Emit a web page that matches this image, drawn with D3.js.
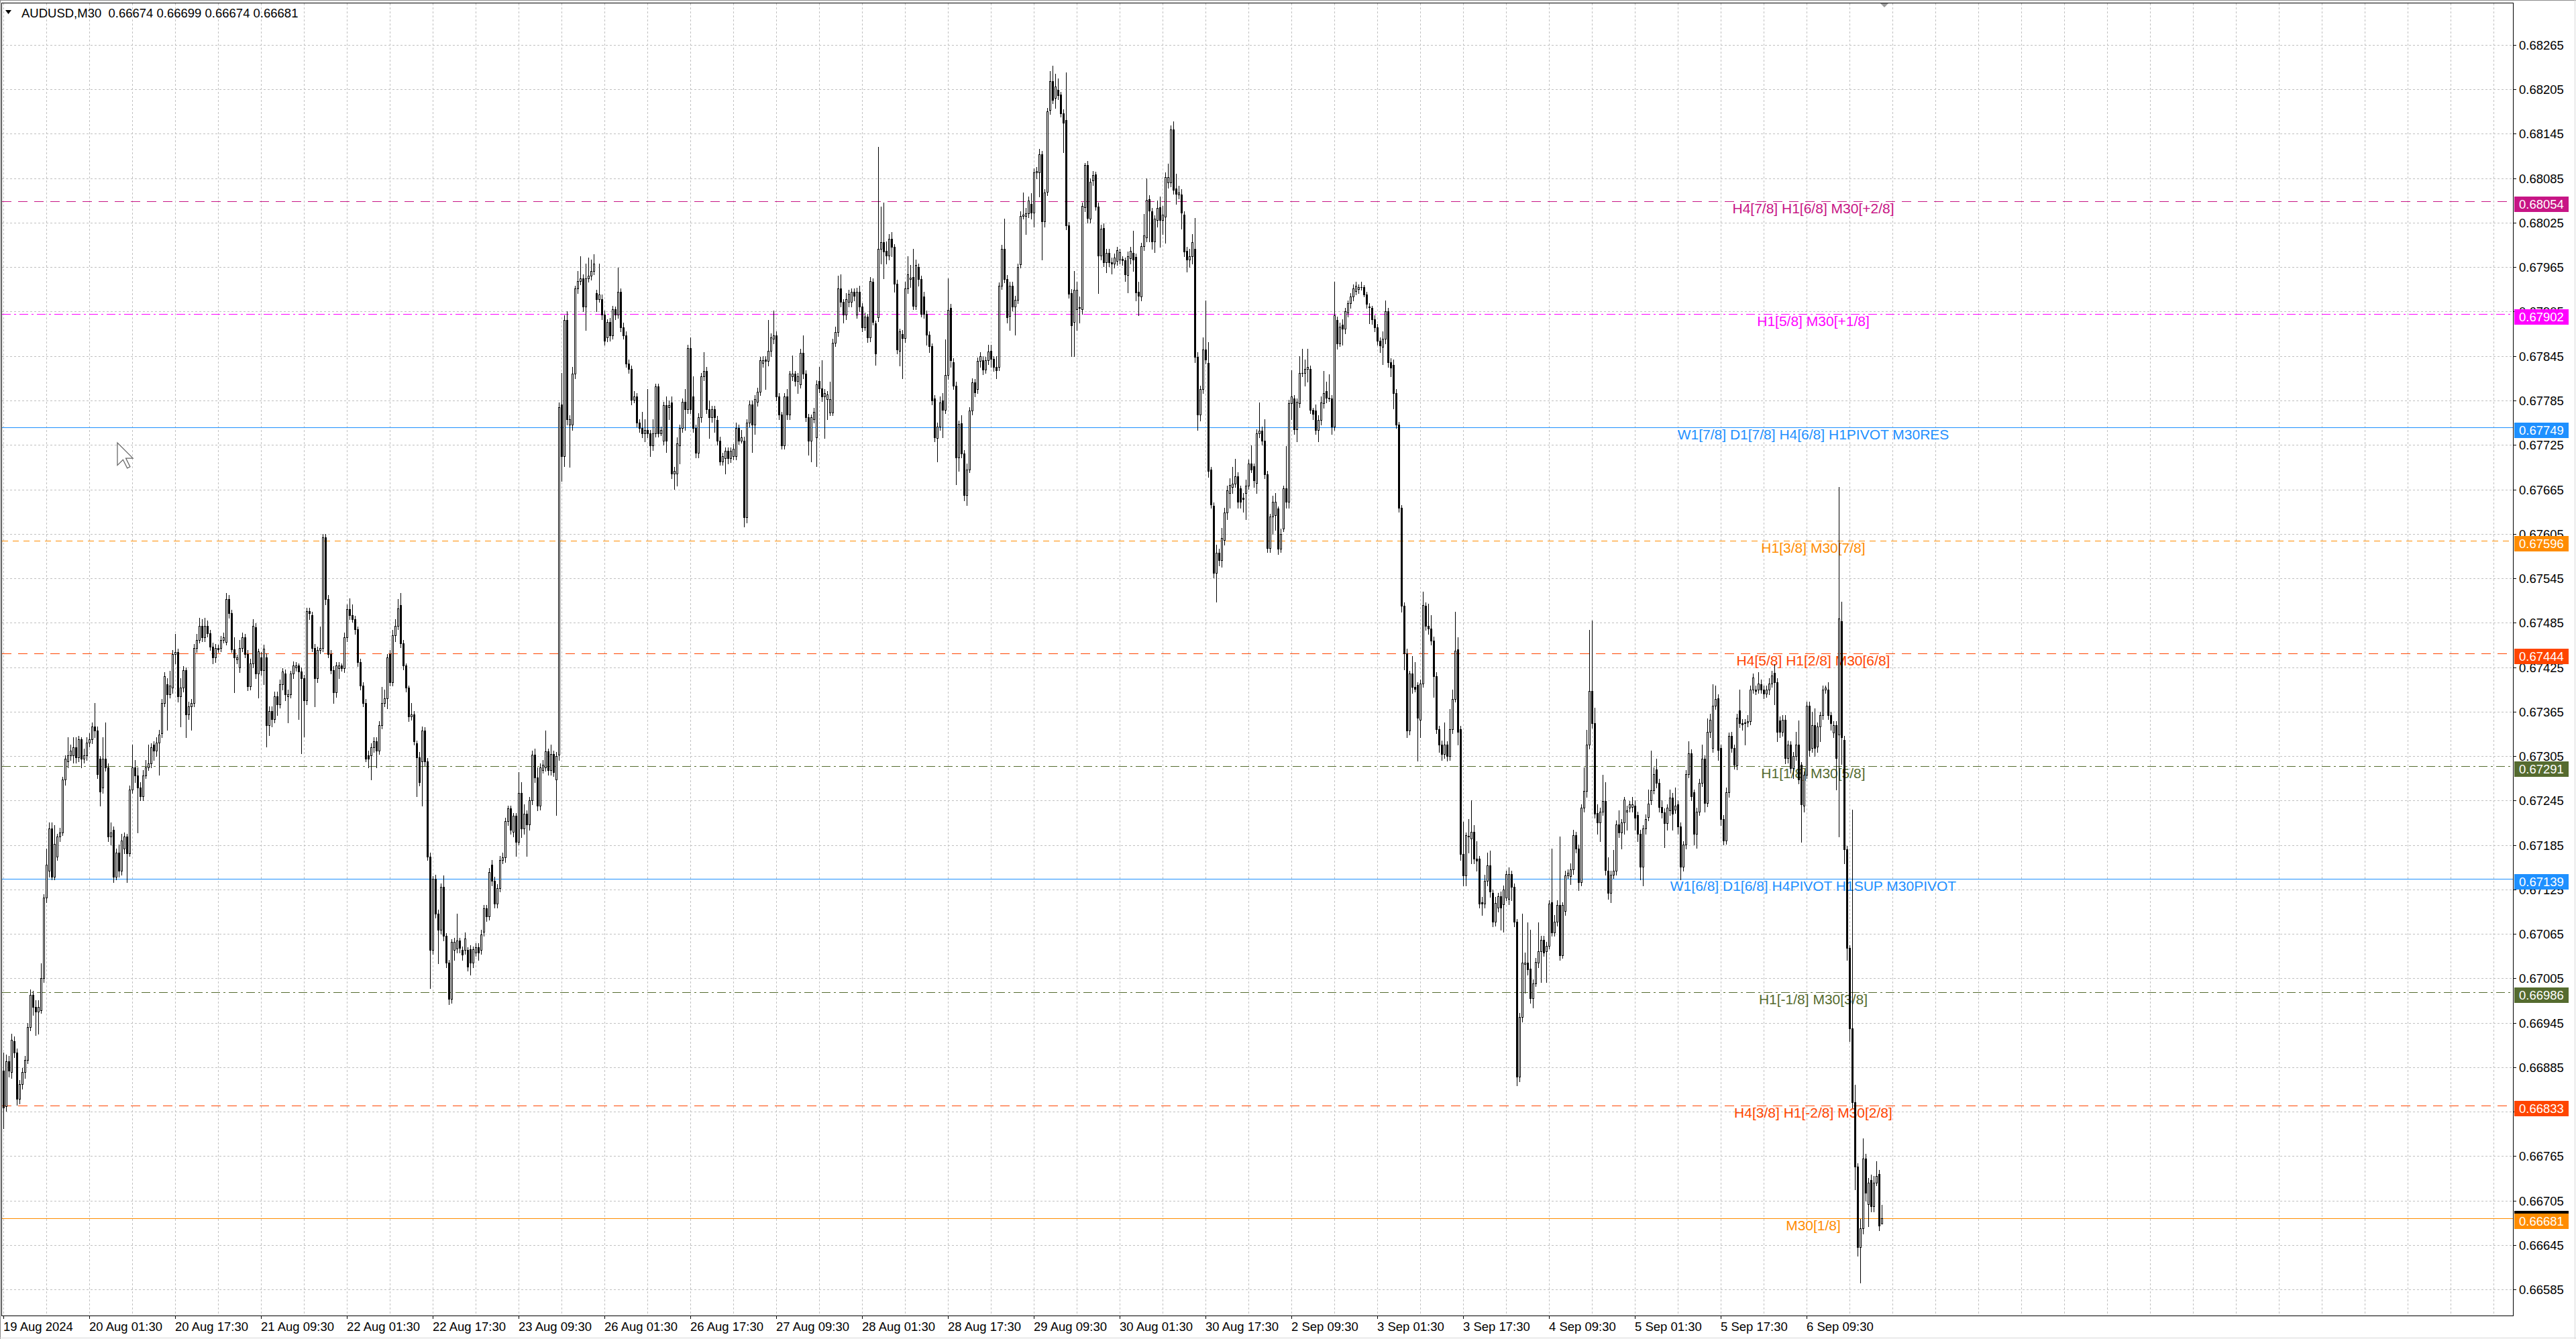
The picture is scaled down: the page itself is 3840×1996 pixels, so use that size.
<!DOCTYPE html>
<html>
<head>
<meta charset="utf-8">
<script src="https://cdn.jsdelivr.net/npm/d3@7"></script>
<style>
html, body { margin: 0; padding: 0; background: #fff; }
svg { display: block; }
</style>
</head>
<body>
<svg id="chart"></svg>
<script>
// AUDUSD M30 candles, values in points above 0.66000 (1 point = 0.00001)
const BASE = 0.66, POINT = 0.00001;

const opens = [
880,832,893,878,920,905,842,862,878,895, 939,983,966,960,962,1005,1114,1150,1207,1142,
1169,1196,1202,1273,1298,1306,1306,1317,1303,1328, 1301,1306,1323,1328,1345,1339,1301,1262,1301,1290,
1196,1205,1142,1175,1150,1180,1196,1174,1260,1290, 1279,1262,1251,1279,1290,1295,1320,1312,1323,1336,
1377,1402,1388,1397,1443,1445,1386,1397,1421,1361, 1372,1377,1451,1462,1481,1465,1481,1471,1453,1438,
1451,1451,1462,1459,1517,1498,1449,1435,1425,1451, 1465,1443,1399,1430,1479,1416,1438,1421,1438,1347,
1366,1355,1386,1375,1402,1416,1386,1388,1416,1425, 1427,1419,1410,1380,1501,1495,1451,1410,1448,1451,
1600,1517,1443,1421,1391,1424,1427,1424,1465,1503, 1495,1490,1476,1432,1400,1377,1306,1306,1317,1325,
1312,1347,1377,1383,1443,1405,1468,1481,1509,1457, 1427,1397,1358,1361,1322,1303,1298,1339,1298,1169,
1043,1139,1092,1070,1128,1062,1026,977,1043,1045, 1056,1043,1043,1043,1044,1026,1040,1047,1043,1068,
1099,1089,1158,1137,1106,1127,1165,1168,1217,1234, 1203,1224,1189,1255,1207,1227,1213,1245,1307,1276,
1238,1286,1290,1311,1286,1308,1273,1307,1780,1710, 1894,1752,1752,1821,1936,1946,1950,1912,1950,1953,
1960,1930,1922,1922,1901,1870,1891,1873,1908,1901, 1932,1884,1873,1835,1828,1786,1790,1755,1748,1741,
1745,1741,1724,1741,1804,1741,1731,1779,1776,1782, 1686,1686,1724,1748,1783,1773,1856,1790,1748,1714,
1762,1818,1825,1773,1762,1773,1759,1731,1703,1707, 1717,1707,1710,1710,1748,1731,1731,1627,1755,1780,
1752,1783,1797,1836,1840,1838,1852,1868,1873,1790, 1766,1724,1790,1766,1818,1821,1811,1807,1849,1821,
1762,1731,1760,1735,1811,1801,1790,1787,1769,1769, 1863,1877,1936,1918,1901,1918,1918,1932,1901,1932,
1912,1884,1898,1870,1945,1889,1897,1990,1999,1987, 1981,2003,1992,1943,1852,1875,1869,1936,1949,1952,
1913,1965,1949,1925,1902,1874,1858,1788,1734,1750, 1785,1772,1819,1910,1837,1805,1708,1754,1713,1657,
1692,1771,1809,1800,1838,1839,1827,1839,1852,1841, 1830,1830,1940,1990,1949,1899,1940,1912,1921,1969,
2034,2034,2038,2050,2039,2093,2093,2117,2027,2067, 2177,2216,2193,2204,2198,2173,2164,2021,1930,1891,
1908,1910,1908,2046,2103,2030,2082,2090,2047,1981, 2018,1972,1984,1972,1970,1973,1975,1976,1974,1954,
1977,1984,1979,1932,1925,1993,2005,2057,2040,2000, 2029,2046,2029,2033,2079,2079,2151,2071,2063,2063,
2036,1987,1975,1980,1990,1844,1766,1800,1854,1836, 1692,1643,1552,1579,1569,1597,1634,1660,1668,1673,
1683,1666,1654,1660,1670,1700,1696,1674,1741,1744, 1731,1685,1586,1628,1630,1639,1585,1612,1666,1648,
1781,1788,1746,1781,1822,1822,1828,1828,1772,1771, 1745,1759,1781,1798,1789,1788,1750,1894,1862,1887,
1882,1904,1916,1925,1933,1935,1938,1938,1928,1912, 1910,1895,1884,1866,1857,1868,1905,1837,1833,1795,
1752,1640,1508,1444,1339,1416,1398,1401,1354,1403, 1508,1481,1477,1461,1413,1341,1320,1308,1320,1305,
1341,1382,1449,1341,1173,1144,1196,1194,1203,1166, 1166,1108,1106,1137,1157,1120,1081,1100,1116,1105,
1114,1112,1146,1128,1081,872,953,1024,1026,1018, 978,998,1026,1041,1057,1041,1049,1108,1067,1081,
1104,1036,1096,1144,1143,1152,1198,1180,1135,1235, 1258,1320,1393,1349,1228,1215,1230,1244,1150,1120,
1145,1150,1213,1202,1215,1230,1235,1236,1238,1225, 1200,1156,1207,1223,1245,1259,1287,1269,1236,1229,
1214,1232,1249,1233,1240,1210,1156,1185,1281,1309, 1256,1200,1230,1269,1301,1242,1338,1316,1373,1383,
1316,1220,1191,1256,1332,1316,1292,1367,1349,1350, 1350,1352,1395,1395,1395,1402,1395,1389,1395,1403,
1417,1405,1353,1338,1354,1302,1320,1289,1305,1320, 1293,1238,1280,1373,1316,1347,1318,1345,1360,1395,
1395,1360,1337,1347,1334,1487,1327,1179,1046,937, 838,751,642,667,762,700,733,697,729,741,
674
];

const highs = [
905,902,900,930,926,910,868,884,900,945, 990,988,975,975,1025,1118,1180,1215,1215,1212,
1200,1208,1277,1306,1330,1320,1330,1330,1332,1330, 1315,1330,1336,1350,1377,1345,1305,1330,1350,1295,
1215,1210,1180,1185,1200,1202,1200,1265,1320,1300, 1290,1270,1286,1300,1320,1322,1325,1330,1340,1382,
1418,1410,1420,1448,1470,1450,1410,1426,1425,1378, 1382,1456,1470,1492,1490,1492,1488,1475,1458,1456,
1455,1467,1472,1525,1522,1502,1465,1442,1462,1472, 1470,1448,1436,1490,1484,1450,1445,1455,1444,1372,
1372,1392,1392,1408,1424,1422,1395,1420,1433,1432, 1430,1425,1415,1505,1505,1500,1456,1453,1480,1605,
1605,1522,1448,1426,1432,1432,1430,1472,1510,1518, 1510,1494,1480,1436,1405,1382,1312,1322,1330,1330,
1352,1398,1395,1443,1448,1475,1490,1517,1525,1462, 1430,1400,1377,1366,1326,1310,1345,1344,1302,1175,
1143,1145,1098,1133,1144,1066,1030,1058,1060,1092, 1060,1048,1067,1047,1050,1048,1052,1052,1070,1104,
1104,1154,1165,1142,1132,1170,1175,1222,1238,1238, 1228,1228,1283,1270,1240,1232,1250,1312,1315,1290,
1295,1300,1339,1315,1320,1312,1310,1782,1822,1900, 1905,1765,1830,1940,1960,1980,1955,1970,1978,1975,
1982,1934,1970,1928,1906,1895,1896,1913,1912,1964, 1936,1890,1878,1840,1832,1798,1795,1760,1770,1760,
1800,1745,1760,1808,1808,1750,1783,1790,1785,1790, 1695,1735,1752,1788,1800,1860,1870,1818,1752,1768,
1822,1850,1830,1785,1778,1778,1764,1736,1714,1722, 1722,1722,1726,1755,1752,1745,1736,1760,1785,1785,
1792,1802,1844,1845,1845,1894,1876,1906,1878,1795, 1770,1795,1800,1825,1846,1825,1822,1855,1873,1826,
1767,1766,1775,1812,1830,1839,1800,1798,1810,1868, 1885,1953,1955,1922,1930,1934,1936,1936,1937,1940,
1916,1904,1902,1952,1950,1893,2127,2047,2052,2000, 2010,2012,1996,1948,1882,1880,1945,1980,1968,1990,
1975,1970,1953,1932,1906,1878,1862,1792,1755,1790, 1795,1867,1950,1915,1842,1810,1758,1765,1718,1700,
1776,1815,1814,1843,1850,1845,1844,1860,1860,1845, 1845,1944,1995,2030,1954,1945,1945,1926,1970,2040,
2066,2045,2060,2065,2098,2100,2125,2122,2070,2180, 2230,2237,2226,2220,2202,2178,2228,2026,1935,1960,
1945,1925,2052,2106,2108,2085,2095,2094,2052,2022, 2024,1990,1990,1978,1983,1992,1990,1980,1978,1986,
1992,2014,1983,1945,1998,2037,2085,2062,2045,2035, 2055,2060,2048,2093,2105,2156,2162,2091,2075,2070,
2040,1992,1990,2010,2031,1850,1805,1870,1920,1864, 1695,1647,1590,1585,1613,1640,1670,1680,1695,1706,
1688,1670,1660,1678,1705,1724,1700,1746,1782,1750, 1760,1690,1632,1656,1660,1642,1612,1670,1723,1786,
1826,1792,1788,1845,1855,1840,1855,1832,1775,1780, 1765,1790,1825,1810,1820,1792,1945,1898,1890,1895,
1910,1920,1930,1942,1945,1942,1945,1941,1932,1916, 1913,1900,1888,1870,1878,1920,1910,1842,1840,1800,
1756,1644,1512,1450,1420,1440,1432,1405,1408,1527, 1512,1511,1495,1466,1418,1346,1326,1350,1325,1368,
1395,1500,1465,1346,1216,1202,1220,1245,1212,1190, 1170,1115,1145,1175,1177,1125,1115,1120,1122,1130,
1150,1155,1150,1133,1085,958,1092,1040,1080,1070, 1003,1032,1080,1062,1062,1054,1110,1180,1090,1110,
1196,1108,1150,1152,1160,1205,1203,1185,1240,1290, 1340,1475,1488,1370,1240,1235,1280,1270,1168,1150,
1178,1218,1232,1220,1250,1238,1244,1250,1245,1230, 1205,1212,1226,1260,1312,1290,1301,1274,1245,1234,
1240,1260,1255,1262,1245,1215,1190,1286,1325,1314, 1260,1235,1274,1320,1306,1356,1362,1402,1400,1388,
1320,1225,1262,1337,1338,1320,1362,1395,1355,1355, 1360,1400,1416,1400,1418,1408,1400,1400,1410,1420,
1429,1410,1358,1360,1360,1326,1325,1310,1338,1353, 1297,1284,1378,1378,1365,1369,1350,1365,1400,1400,
1405,1365,1352,1352,1668,1513,1332,1184,1050,1233, 861,755,680,789,768,735,740,738,758,746,
699
];

const lows = [
802,826,872,870,898,834,836,856,870,890, 935,955,928,930,958,1000,1108,1142,1138,1138,
1165,1190,1198,1266,1290,1300,1296,1296,1298,1290, 1296,1300,1318,1322,1330,1275,1238,1255,1285,1190,
1185,1135,1138,1142,1145,1174,1135,1170,1255,1270, 1202,1245,1245,1275,1286,1290,1300,1305,1280,1330,
1372,1340,1384,1390,1430,1378,1345,1392,1330,1355, 1340,1372,1445,1458,1460,1460,1466,1448,1430,1432,
1445,1446,1458,1455,1492,1445,1391,1430,1418,1446, 1438,1394,1395,1425,1410,1384,1415,1402,1318,1333,
1345,1350,1360,1370,1395,1380,1350,1384,1410,1420, 1355,1309,1331,1375,1490,1446,1372,1405,1444,1446,
1510,1438,1416,1377,1385,1410,1420,1418,1460,1490, 1486,1470,1426,1395,1372,1298,1290,1273,1310,1290,
1308,1342,1372,1369,1400,1400,1460,1476,1452,1422, 1392,1352,1354,1320,1251,1265,1238,1292,1165,992,
1038,1087,1025,1065,1056,1020,970,972,1030,1040, 1040,1030,1038,1015,1010,1020,1035,1030,1038,1062,
1082,1084,1130,1100,1100,1122,1160,1162,1212,1200, 1196,1170,1185,1195,1200,1170,1205,1240,1270,1232,
1233,1282,1285,1280,1280,1278,1225,1300,1676,1696, 1752,1695,1745,1815,1930,1942,1905,1880,1945,1948,
1955,1905,1918,1895,1860,1865,1866,1868,1895,1896, 1878,1868,1830,1822,1780,1782,1750,1742,1735,1730,
1735,1710,1718,1736,1736,1738,1725,1715,1760,1680, 1665,1670,1700,1742,1745,1768,1768,1742,1708,1708,
1756,1812,1768,1734,1756,1742,1725,1698,1698,1686, 1700,1702,1705,1705,1726,1728,1615,1620,1750,1715,
1740,1778,1792,1830,1800,1832,1845,1862,1785,1760, 1720,1720,1760,1760,1812,1805,1795,1802,1815,1757,
1712,1703,1755,1696,1796,1784,1734,1760,1765,1765, 1858,1872,1912,1890,1895,1912,1912,1920,1896,1905,
1878,1880,1864,1865,1887,1833,1892,1970,1950,1970, 1975,1980,1932,1848,1832,1815,1864,1930,1938,1908,
1908,1940,1898,1896,1860,1850,1780,1730,1703,1745, 1735,1768,1814,1830,1800,1672,1690,1708,1650,1644,
1688,1766,1790,1795,1830,1820,1822,1834,1830,1825, 1815,1826,1935,1944,1890,1880,1906,1874,1916,1964,
2030,2010,2032,2030,2020,2085,2060,1975,2020,2062, 2172,2186,2180,2192,2168,2120,2016,1924,1845,1845,
1880,1890,1902,2040,2025,2025,2076,2042,1930,1975, 1966,1958,1966,1956,1964,1968,1970,1968,1946,1931,
1970,1960,1920,1900,1920,1988,2000,2000,1990,1985, 2020,1992,2010,1998,2072,2074,2064,2050,2058,2017,
1980,1959,1965,1970,1837,1745,1758,1795,1835,1682, 1640,1546,1513,1562,1560,1590,1625,1640,1660,1668,
1640,1640,1635,1625,1665,1688,1668,1660,1735,1725, 1680,1580,1580,1605,1610,1578,1580,1608,1640,1640,
1760,1740,1730,1776,1818,1805,1810,1768,1760,1740, 1730,1752,1775,1782,1784,1740,1745,1855,1858,1860,
1876,1898,1910,1920,1928,1930,1934,1925,1910,1889, 1888,1878,1860,1850,1834,1862,1830,1818,1774,1748,
1635,1500,1422,1330,1334,1390,1392,1299,1330,1398, 1475,1470,1455,1385,1336,1310,1300,1302,1299,1300,
1336,1378,1320,1165,1130,1130,1175,1160,1160,1150, 1100,1090,1100,1130,1115,1075,1076,1095,1070,1068,
1110,1105,1110,1075,860,866,946,985,1010,972, 965,994,1020,1000,1035,1000,1045,1062,1062,1076,
1030,1032,1090,1140,1132,1146,1175,1124,1130,1230, 1250,1315,1343,1222,1200,1190,1225,1145,1112,1108,
1140,1145,1195,1180,1200,1205,1230,1230,1205,1190, 1138,1130,1200,1218,1240,1254,1262,1230,1222,1182,
1205,1225,1205,1228,1200,1138,1150,1180,1276,1245, 1185,1181,1225,1264,1230,1237,1330,1310,1368,1300,
1212,1185,1186,1250,1310,1288,1287,1344,1340,1320, 1345,1348,1390,1388,1390,1390,1383,1385,1388,1398,
1375,1325,1330,1332,1295,1296,1282,1275,1300,1268, 1189,1230,1275,1305,1310,1305,1310,1325,1355,1390,
1355,1340,1330,1260,1196,1294,1160,1030,920,830, 720,630,594,660,705,670,690,690,725,665,
674
];

const closes = [
830,893,880,922,905,842,862,878,895,939, 983,966,960,966,1005,1114,1158,1207,1142,1186,
1196,1202,1273,1301,1306,1312,1317,1303,1328,1301, 1306,1323,1328,1345,1339,1281,1257,1301,1290,1196,
1202,1142,1175,1150,1191,1196,1174,1260,1290,1279, 1262,1251,1279,1290,1295,1317,1312,1323,1334,1377,
1413,1388,1400,1443,1445,1386,1397,1421,1361,1372, 1377,1451,1462,1481,1465,1481,1471,1453,1438,1451,
1449,1462,1465,1517,1498,1449,1438,1438,1451,1465, 1443,1399,1430,1481,1416,1446,1421,1450,1347,1366,
1355,1386,1375,1402,1419,1388,1388,1416,1427,1427, 1419,1410,1380,1501,1498,1451,1410,1448,1451,1600,
1517,1443,1421,1391,1427,1427,1424,1465,1503,1495, 1490,1476,1432,1400,1377,1301,1301,1317,1325,1312,
1347,1377,1383,1438,1405,1468,1481,1504,1457,1427, 1397,1358,1361,1325,1303,1270,1339,1298,1169,1043,
1139,1092,1070,1128,1062,1026,977,1054,1054,1056, 1046,1037,1059,1021,1026,1044,1047,1040,1064,1099,
1089,1148,1137,1106,1127,1165,1168,1217,1234,1205, 1224,1189,1255,1207,1227,1213,1245,1307,1276,1238,
1290,1293,1311,1286,1308,1283,1305,1776,1710,1894, 1760,1760,1821,1936,1946,1950,1912,1950,1953,1960,
1970,1922,1928,1901,1866,1891,1873,1908,1901,1932, 1884,1873,1835,1828,1786,1790,1755,1748,1741,1745,
1741,1724,1741,1804,1741,1745,1779,1731,1779,1686, 1690,1727,1748,1783,1773,1856,1773,1748,1714,1762,
1818,1825,1773,1762,1773,1762,1731,1703,1710,1717, 1707,1717,1720,1748,1731,1735,1627,1755,1780,1752,
1787,1797,1839,1839,1838,1852,1870,1873,1790,1766, 1724,1790,1766,1821,1821,1811,1818,1849,1821,1762,
1731,1762,1770,1807,1801,1790,1795,1793,1787,1863, 1877,1936,1918,1901,1922,1929,1932,1926,1932,1912,
1884,1898,1870,1946,1891,1848,1990,1999,1986,1981, 2003,1992,1943,1854,1878,1869,1936,1955,1951,1913,
1968,1949,1902,1902,1874,1858,1785,1735,1750,1782, 1772,1819,1907,1839,1805,1708,1753,1713,1657,1692,
1771,1809,1796,1838,1845,1827,1839,1851,1841,1830, 1826,1940,1990,1949,1897,1940,1912,1921,1965,2034,
2036,2038,2055,2039,2093,2095,2117,2027,2066,2175, 2216,2191,2209,2197,2173,2160,2021,1929,1886,1934,
1934,1911,2048,2103,2031,2080,2089,2047,1981,2017, 1972,1984,1972,1970,1978,1988,1985,1974,1955,1980,
1987,1975,1931,1926,1993,2008,2056,2041,2000,2030, 2045,2029,2036,2087,2087,2151,2069,2064,2066,2039,
1986,1975,1980,1999,1844,1766,1800,1854,1840,1690, 1645,1552,1579,1569,1599,1634,1664,1671,1673,1683,
1648,1648,1652,1670,1700,1692,1677,1741,1744,1731, 1685,1586,1628,1648,1648,1585,1605,1666,1648,1781,
1790,1746,1783,1822,1822,1828,1830,1772,1767,1745, 1759,1782,1795,1789,1788,1750,1900,1862,1885,1882,
1905,1916,1925,1936,1940,1938,1938,1928,1915,1911, 1895,1884,1866,1859,1868,1905,1837,1829,1795,1752,
1640,1508,1444,1339,1416,1398,1396,1357,1403,1509, 1481,1477,1461,1413,1341,1320,1308,1320,1305,1341,
1382,1447,1338,1173,1144,1198,1197,1203,1166,1164, 1106,1106,1137,1157,1122,1081,1107,1116,1100,1125,
1146,1146,1128,1081,872,953,1026,1026,1017,978, 998,1027,1041,1057,1040,1049,1106,1067,1081,1104,
1036,1104,1144,1147,1152,1198,1180,1135,1235,1258, 1320,1393,1349,1227,1215,1230,1244,1151,1120,1145,
1150,1213,1202,1215,1246,1232,1240,1240,1222,1200, 1156,1207,1220,1241,1259,1281,1269,1236,1229,1214,
1235,1249,1227,1238,1210,1156,1185,1281,1309,1251, 1200,1230,1269,1301,1242,1338,1354,1373,1382,1313,
1220,1191,1256,1332,1316,1293,1357,1349,1348,1349, 1352,1395,1411,1393,1403,1395,1389,1395,1403,1414,
1405,1338,1338,1354,1302,1320,1289,1305,1320,1273, 1240,1280,1373,1313,1347,1316,1345,1360,1395,1397,
1360,1349,1347,1302,1491,1330,1179,1046,937,838, 751,642,667,762,715,729,697,729,738,671,
681
];

// bottom axis labels, one every 32 bars starting from the first bar
const timeLabels = [
  "19 Aug 2024", "20 Aug 01:30", "20 Aug 17:30", "21 Aug 09:30", "22 Aug 01:30", "22 Aug 17:30",
  "23 Aug 09:30", "26 Aug 01:30", "26 Aug 17:30", "27 Aug 09:30", "28 Aug 01:30", "28 Aug 17:30",
  "29 Aug 09:30", "30 Aug 01:30", "30 Aug 17:30", "2 Sep 09:30", "3 Sep 01:30", "3 Sep 17:30",
  "4 Sep 09:30", "5 Sep 01:30", "5 Sep 17:30", "6 Sep 09:30"
];

const priceTicks = [
  0.66585, 0.66645, 0.66705, 0.66765, 0.66825, 0.66885, 0.66945, 0.67005, 0.67065, 0.67125,
  0.67185, 0.67245, 0.67305, 0.67365, 0.67425, 0.67485, 0.67545, 0.67605, 0.67665, 0.67725,
  0.67785, 0.67845, 0.67905, 0.67965, 0.68025, 0.68085, 0.68145, 0.68205, 0.68265
];

// Murrey math levels drawn by the indicator
const levelPrices = [0.68054, 0.67902, 0.67749, 0.67596, 0.67444, 0.67291, 0.67139, 0.66986, 0.66833, 0.66681];
const levelNames = [
  "H4[7/8] H1[6/8] M30[+2/8]",
  "H1[5/8] M30[+1/8]",
  "W1[7/8] D1[7/8] H4[6/8] H1PIVOT M30RES",
  "H1[3/8] M30[7/8]",
  "H4[5/8] H1[2/8] M30[6/8]",
  "H1[1/8] M30[5/8]",
  "W1[6/8] D1[6/8] H4PIVOT H1SUP M30PIVOT",
  "H1[-1/8] M30[3/8]",
  "H4[3/8] H1[-2/8] M30[2/8]",
  "M30[1/8]"
];

const symbol = "AUDUSD,M30";

// ---- styles ----
const levelStyle = [
  {color: "#C71585", dash: "14,10"},
  {color: "#FF00FF", dash: "13,5,3,5"},
  {color: "#1E90FF", dash: null},
  {color: "#FF8C00", dash: "9,7"},
  {color: "#FF4500", dash: "14,10"},
  {color: "#556B2F", dash: "13,5,3,5"},
  {color: "#1E90FF", dash: null},
  {color: "#556B2F", dash: "13,5,3,5"},
  {color: "#FF4500", dash: "14,10"},
  {color: "#FF8C00", dash: null}
];
const axisFont = "'Liberation Sans', Arial, sans-serif";

let width = 3840, height = 1996;
let frame = {left: 2, top: 4, right: 3746, bottom: 1961};

let n = Math.min(opens.length, highs.length, lows.length, closes.length);
let bars = d3.range(n).map(i => ({i: i, o: opens[i], h: highs[i], l: lows[i], c: closes[i]}));

let x = d3.scaleLinear().domain([0, 700]).range([5, 2805]);
let y = d3.scaleLinear().domain([0.66585, 0.68265]).range([1922, 67]);
let cx = i => Math.round(x(i));
let cy = v => Math.round(y(BASE + v * POINT));
let py = p => Math.round(y(p));

let svg = d3.select('#chart')
    .attr('width', width)
    .attr('height', height)
    .attr('viewBox', '0 0 ' + width + ' ' + height)
    .style('font-family', axisFont);

svg.append('rect').attr('width', width).attr('height', height).attr('fill', '#fff');

// grid
let grid = svg.append('g').attr('shape-rendering', 'crispEdges')
    .attr('stroke', '#c0c0c0').attr('stroke-dasharray', '3,3');
let lastBar = Math.floor(x.invert(frame.right - 8));
grid.selectAll('.vgrid')
    .data(d3.range(0, lastBar + 1, 16))
    .join('line')
    .attr('x1', d => cx(d) + 0.5).attr('x2', d => cx(d) + 0.5)
    .attr('y1', frame.top + 1).attr('y2', frame.bottom);
grid.selectAll('.hgrid')
    .data(priceTicks)
    .join('line')
    .attr('x1', frame.left + 1).attr('x2', frame.right)
    .attr('y1', d => py(d) + 0.5).attr('y2', d => py(d) + 0.5);

// level lines and their labels
let levels = svg.append('g');
levels.selectAll('line')
    .data(levelPrices)
    .join('line')
    .attr('shape-rendering', 'crispEdges')
    .attr('x1', frame.left + 1).attr('x2', frame.right)
    .attr('y1', d => py(d) + 0.5).attr('y2', d => py(d) + 0.5)
    .attr('stroke', (d, i) => levelStyle[i].color)
    .attr('stroke-dasharray', (d, i) => levelStyle[i].dash);
levels.selectAll('text')
    .data(levelPrices)
    .join('text')
    .attr('x', x(674.5))
    .attr('y', d => py(d) + 18)
    .attr('text-anchor', 'middle')
    .style('font-size', '21px')
    .attr('fill', (d, i) => levelStyle[i].color)
    .text((d, i) => levelNames[i]);

// candles
let candles = svg.append('g').attr('shape-rendering', 'crispEdges');
candles.selectAll('.wick')
    .data(bars)
    .join('line')
    .attr('class', 'wick')
    .attr('x1', d => cx(d.i) + 0.5).attr('x2', d => cx(d.i) + 0.5)
    .attr('y1', d => cy(d.h)).attr('y2', d => cy(d.l) + 1)
    .attr('stroke', '#000');

let hollow = bars.filter(d => d.c > d.o && cy(d.o) - cy(d.c) >= 2);
let solid = bars.filter(d => !(d.c > d.o && cy(d.o) - cy(d.c) >= 2));
candles.selectAll('.bear')
    .data(solid)
    .join('rect')
    .attr('class', 'bear')
    .attr('x', d => cx(d.i) - 1)
    .attr('width', 3)
    .attr('y', d => Math.min(cy(d.o), cy(d.c)))
    .attr('height', d => Math.abs(cy(d.o) - cy(d.c)) + 1)
    .attr('fill', '#000');
candles.selectAll('.bull')
    .data(hollow)
    .join('rect')
    .attr('class', 'bull')
    .attr('x', d => cx(d.i) - 0.5)
    .attr('width', 2)
    .attr('y', d => cy(d.c) + 0.5)
    .attr('height', d => cy(d.o) - cy(d.c))
    .attr('fill', '#fff')
    .attr('stroke', '#000');

// chart frame and outer window border
svg.append('rect')
    .attr('x', frame.left + 0.5).attr('y', frame.top + 0.5)
    .attr('width', frame.right - frame.left).attr('height', frame.bottom - frame.top)
    .attr('fill', 'none').attr('stroke', '#000')
    .attr('shape-rendering', 'crispEdges');
let border = svg.append('g').attr('shape-rendering', 'crispEdges');
border.append('line').attr('x1', 0).attr('x2', width).attr('y1', 0.5).attr('y2', 0.5).attr('stroke', '#8c8c8c');
border.append('line').attr('x1', 0.5).attr('x2', 0.5).attr('y1', 0).attr('y2', height).attr('stroke', '#8c8c8c');
border.append('line').attr('x1', width - 1.5).attr('x2', width - 1.5).attr('y1', 0).attr('y2', height).attr('stroke', '#d8d8d8');
border.append('line').attr('x1', 0).attr('x2', width).attr('y1', height - 1.5).attr('y2', height - 1.5).attr('stroke', '#d8d8d8');

// chart shift marker at top
let shiftX = x(701);
svg.append('path')
    .attr('d', 'M' + (shiftX - 6) + ',5L' + (shiftX + 6) + ',5L' + shiftX + ',11Z')
    .attr('fill', '#9a9a9a');

// price axis
let yAxis = svg.append('g');
yAxis.selectAll('line')
    .data(priceTicks)
    .join('line')
    .attr('shape-rendering', 'crispEdges')
    .attr('x1', frame.right).attr('x2', frame.right + 5)
    .attr('y1', d => py(d) + 0.5).attr('y2', d => py(d) + 0.5)
    .attr('stroke', '#000');
yAxis.selectAll('text')
    .data(priceTicks)
    .join('text')
    .attr('x', frame.right + 9)
    .attr('y', d => py(d) + 7)
    .style('font-size', '18.5px')
    .attr('fill', '#000')
    .text(d => d3.format('.5f')(d));

// price tags for the levels (bid tag sits under the last one)
let tags = svg.append('g').attr('shape-rendering', 'crispEdges');
let bid = closes[n - 1];
tags.append('rect')
    .attr('x', frame.right + 2).attr('y', cy(bid) - 11)
    .attr('width', 81).attr('height', 23).attr('fill', '#000');
tags.selectAll('rect.tag')
    .data(levelPrices)
    .join('rect')
    .attr('class', 'tag')
    .attr('x', frame.right + 2).attr('y', d => py(d) - 7)
    .attr('width', 81).attr('height', 23)
    .attr('fill', (d, i) => levelStyle[i].color);
tags.selectAll('text')
    .data(levelPrices)
    .join('text')
    .attr('x', frame.right + 9)
    .attr('y', d => py(d) + 11)
    .style('font-size', '18.5px')
    .attr('fill', '#fff')
    .text(d => d3.format('.5f')(d));

// time axis
let xAxis = svg.append('g');
xAxis.selectAll('line')
    .data(timeLabels)
    .join('line')
    .attr('shape-rendering', 'crispEdges')
    .attr('x1', (d, i) => cx(i * 32) + 0.5).attr('x2', (d, i) => cx(i * 32) + 0.5)
    .attr('y1', frame.bottom).attr('y2', frame.bottom + 5)
    .attr('stroke', '#000');
xAxis.selectAll('text')
    .data(timeLabels)
    .join('text')
    .attr('x', (d, i) => cx(i * 32))
    .attr('y', 1984)
    .style('font-size', '18.5px')
    .attr('fill', '#000')
    .text(d => d);

// title with the last bar's OHLC
let last = bars[n - 1];
let fmt = v => d3.format('.5f')(BASE + v * POINT);
svg.append('path').attr('d', 'M8,15L17,15L12.5,21Z').attr('fill', '#000');
svg.append('text')
    .attr('x', 32).attr('y', 26)
    .style('font-size', '18.5px')
    .attr('fill', '#000')
    .attr('xml:space', 'preserve')
    .style('white-space', 'pre')
    .text(symbol + '  ' + [last.o, last.h, last.l, last.c].map(fmt).join(' '));

// mouse pointer left on the chart
svg.append('path')
    .attr('transform', 'translate(175,660) scale(2.1)')
    .attr('d', 'M0,0L0,16L4,12L7,18L9,17L6,11L11,11Z')
    .attr('fill', '#fff')
    .attr('stroke', '#666')
    .attr('stroke-width', 0.6);
</script>
</body>
</html>
